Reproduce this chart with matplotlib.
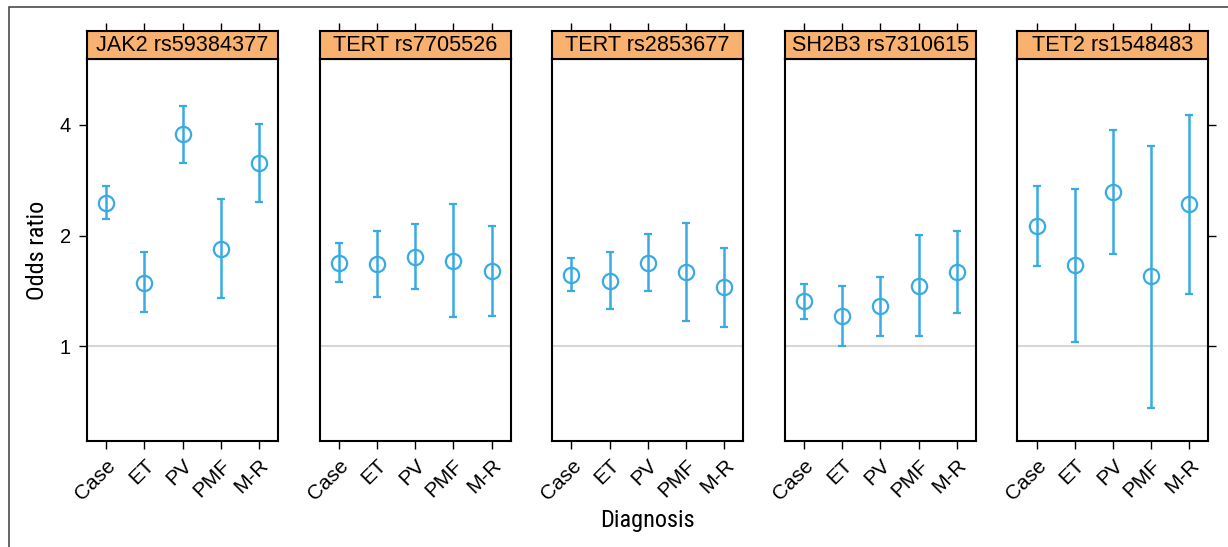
import matplotlib
matplotlib.use("Agg")
import matplotlib.pyplot as plt
from matplotlib.patches import Rectangle
import numpy as np

# ---- data ----
genes = ['JAK2 rs59384377', 'TERT rs7705526', 'TERT rs2853677', 'SH2B3 rs7310615', 'TET2 rs1548483']
diagnoses = ['Case', 'ET', 'PV', 'PMF', 'M-R']

or_jak2 = [2.46, 1.49, 3.77, 1.84, 3.15]
lo_jak2 = [2.22, 1.24, 3.15, 1.35, 2.47]
hi_jak2 = [2.73, 1.80, 4.51, 2.52, 4.03]

or_tert1 = [1.69, 1.67, 1.75, 1.71, 1.60]
lo_tert1 = [1.50, 1.36, 1.43, 1.20, 1.21]
hi_tert1 = [1.91, 2.06, 2.15, 2.44, 2.12]

or_tert2 = [1.56, 1.51, 1.69, 1.59, 1.45]
lo_tert2 = [1.41, 1.26, 1.41, 1.17, 1.13]
hi_tert2 = [1.74, 1.81, 2.02, 2.17, 1.85]

or_sh2b3 = [1.33, 1.21, 1.29, 1.46, 1.59]
lo_sh2b3 = [1.19, 1.00, 1.07, 1.07, 1.23]
hi_sh2b3 = [1.48, 1.46, 1.54, 2.01, 2.06]

or_tet2 = [2.12, 1.66, 2.62, 1.55, 2.44]
lo_tet2 = [1.65, 1.03, 1.78, 0.68, 1.39]
hi_tet2 = [2.73, 2.67, 3.87, 3.51, 4.26]

y_ticks = [1, 2, 4]
y_tick_labels = ['1', '2', '4']

series = [(or_jak2, lo_jak2, hi_jak2), (or_tert1, lo_tert1, hi_tert1),
          (or_tert2, lo_tert2, hi_tert2), (or_sh2b3, lo_sh2b3, hi_sh2b3),
          (or_tet2, lo_tet2, hi_tet2)]

# ---- style ----
W, H = 1228, 547
DPI = 100
BLUE = '#38ABE2'
ORANGE = '#F8B16E'
TICK_FONT = ['Liberation Sans', 'DejaVu Sans']
LABEL_FONT = ['Liberation Sans Narrow', 'Roboto Condensed', 'Roboto', 'DejaVu Sans']

fig = plt.figure(figsize=(W / DPI, H / DPI), dpi=DPI)
fig.patch.set_facecolor('white')

# outer frame (partially visible)
fig.add_artist(Rectangle((9.3 / W, -0.5), 2.0, 1.5 - 7.3 / H, transform=fig.transFigure,
                         fill=False, edgecolor='#3a3a3a', linewidth=1.1))

panel_left0 = 87.0
panel_step = 232.6
panel_w = 191.0
panel_top = 59.3
panel_bot = 441.3
strip_top = 31.0

ylim = (0.552, 6.03)
x = np.arange(1, len(diagnoses) + 1)

for i, (gene, (orv, lo, hi)) in enumerate(zip(genes, series)):
    left = panel_left0 + i * panel_step
    ax = fig.add_axes([left / W, 1 - panel_bot / H, panel_w / W, (panel_bot - panel_top) / H])
    ax.set_yscale('log')
    ax.set_ylim(*ylim)
    ax.set_xlim(0.5, 5.5)
    ax.axhline(1, color='#d6d6d6', lw=1.5, zorder=1)
    orv = np.array(orv); lo = np.array(lo); hi = np.array(hi)
    ax.errorbar(x, orv, yerr=[orv - lo, hi - orv], fmt='o', color=BLUE, ecolor=BLUE,
                elinewidth=1.8, capsize=3, capthick=1.8, markersize=11,
                markerfacecolor='none', markeredgecolor=BLUE, markeredgewidth=1.6, zorder=3)
    for s in ax.spines.values():
        s.set_linewidth(1.5)
        s.set_color('black')
    ax.set_xticks(x)
    ax.set_xticklabels(diagnoses, rotation=45, ha='right', va='top', rotation_mode='anchor',
                       fontsize=15, family=TICK_FONT)
    ax.tick_params(axis='x', direction='out', length=5.5, width=1, pad=5, bottom=True, top=False)
    ax.yaxis.set_minor_locator(matplotlib.ticker.NullLocator())
    ax.set_yticks(y_ticks)
    if i == 0:
        ax.set_yticklabels(y_tick_labels, fontsize=14.5, family=TICK_FONT)
        ax.tick_params(axis='y', direction='out', length=5.5, width=1, pad=6, left=True, right=False)
    elif i == len(genes) - 1:
        ax.set_yticklabels([])
        ax.tick_params(axis='y', direction='out', length=5.5, width=1, left=False, right=True,
                       labelleft=False, labelright=False)
    else:
        ax.set_yticklabels([])
        ax.tick_params(axis='y', left=False, right=False, labelleft=False)

    # strip
    sax = fig.add_axes([left / W, 1 - panel_top / H, panel_w / W, (panel_top - strip_top) / H])
    sax.set_facecolor(ORANGE)
    sax.set_xlim(0.5, 5.5)
    sax.set_ylim(0, 1)
    sax.set_xticks(x)
    sax.set_yticks([])
    sax.tick_params(axis='x', direction='out', length=5.5, width=1, top=True, bottom=False,
                    labeltop=False, labelbottom=False)
    for s in sax.spines.values():
        s.set_linewidth(1.5)
        s.set_color('black')
    sax.text(3.0, 0.47, gene, ha='center', va='center', fontsize=15.6, family=TICK_FONT)

fig.text(647.6 / W, 1 - 520 / H, 'Diagnosis', ha='center', va='center',
         fontsize=17.5, family=LABEL_FONT)
fig.text(38 / W, 1 - 250 / H, 'Odds ratio', ha='center', va='center', rotation=90,
         fontsize=17.5, family=LABEL_FONT)

fig.savefig('out.png', dpi=DPI, facecolor='white')
